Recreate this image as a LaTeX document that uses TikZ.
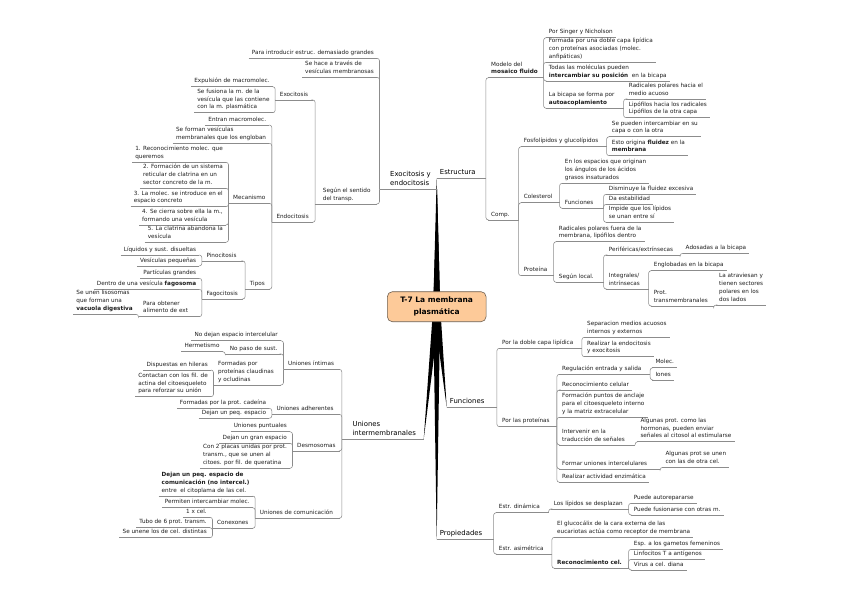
\documentclass[tikz,border=0pt]{standalone}
\usepackage{fontspec}
\setmainfont{DejaVu Sans}
\usetikzlibrary{calc,backgrounds}
\definecolor{txt}{RGB}{30,30,30}
\definecolor{lin}{RGB}{140,140,140}
\definecolor{rootfill}{RGB}{253,202,153}
\definecolor{rootdraw}{RGB}{110,95,80}
\newcommand\mmtl[1]{\begin{tabular}{@{}l@{}}#1\end{tabular}}
\newcommand\RL[4]{\node[tp,anchor=south west] (#1) at (#2,#3) {\mmtl{#4}};\draw[uline] (#1.south west) -- (#1.south east);}
\newcommand\LL[4]{\node[tp,anchor=south east] (#1) at (#2,#3) {\mmtl{#4}};\draw[uline] (#1.south west) -- (#1.south east);}
\newcommand\PP[6]{\node[#1,anchor=south west] (#2) at (#3,#4) {\makebox[\dimexpr#5pt-6pt\relax][l]{\mmtl{#6}}};\draw[uline] (#2.south west) -- (#2.south east);}
\newcommand\cR[2]{\draw[conn] (#1.south east) -- ++(1.5,0) coordinate (mmv);\draw[conn,rounded corners=2.5pt] (mmv) |- (#2.south west);}
\newcommand\cL[2]{\draw[conn] (#1.south west) -- ++(-1.5,0) coordinate (mmv);\draw[conn,rounded corners=2.5pt] (mmv) |- (#2.south east);}
\begin{document}
\begin{tikzpicture}[x=1pt,y=-1pt,
  tp/.style={inner xsep=3pt,inner ysep=1.2pt,font=\fontsize{5.7}{7.8}\selectfont,text=txt},
  mt/.style={tp,font=\fontsize{6.9}{8.8}\selectfont,text=black},
  uline/.style={draw=lin,line width=0.55pt},
  conn/.style={draw=lin,line width=0.55pt},
  root/.style={draw=rootdraw,fill=rootfill,rounded corners=5pt,minimum width=98.7pt,minimum height=30pt,align=center,font=\bfseries\fontsize{7.5}{11.6}\selectfont,text=black,line width=0.6pt}]
\useasboundingbox (0,0) rectangle (848,599);

\node[root] (root) at (436.7,306.7) {T-7 La membrana\\plasmática};

% ---------- Estructura ----------
\PP{mt}{estr}{436.7}{178.3}{47.3}{Estructura}
\PP{tp}{mod}{488}{77.7}{53.7}{Modelo del\\\textbf{mosaico fluido}}
\RL{sing}{545.7}{37.7}{Por Singer y Nicholson}
\RL{form}{545.7}{62.3}{Formada por una doble capa lipídica\\con proteínas asociadas (molec.\\anfipáticas)}
\RL{todas}{545.7}{81}{Todas las moléculas pueden\\\textbf{intercambiar su posición}\ \ en la bicapa}
\PP{tp}{bicapa}{545.7}{108.3}{76}{La bicapa se forma por\\\textbf{autoacoplamiento}}
\RL{radic}{625.7}{99}{Radicales polares hacia el\\medio acuoso}
\RL{lipof}{625.7}{117.7}{Lipófilos hacia los radicales\\Lipófilos de la otra capa}
\PP{tp}{comp}{488}{220}{28.7}{Comp.}
\PP{tp}{fosfo}{520.7}{146.7}{84}{Fosfolípidos y glucolípidos}
\RL{seint}{608.7}{136.7}{Se pueden intercambiar en su\\capa o con la otra}
\RL{esto}{608.7}{155.7}{Esto origina \textbf{fluidez} en la\\\textbf{membrana}}
\PP{tp}{coles}{520.7}{202.7}{37}{Colesterol}
\RL{espac}{561.7}{183.3}{En los espacios que originan\\los ángulos de los ácidos\\grasos insaturados}
\PP{tp}{funcc}{561.7}{208.3}{40}{Funciones}
\RL{dism}{605.7}{194.3}{Disminuye la fluidez excesiva}
\RL{estab}{605.7}{204.3}{Da estabilidad}
\RL{impide}{605.7}{222.3}{Impide que los lípidos\\se unan entre sí}
\PP{tp}{prot}{520.7}{275.7}{31}{Proteína}
\RL{radfu}{555.7}{241.7}{Radicales polares fuera de la\\membrana, lipófilos dentro}
\PP{tp}{seglo}{555.7}{282.3}{46}{Según local.}
\PP{tp}{perif}{605.7}{255}{72.6}{Periféricas/extrínsecas}
\RL{adosa}{682.5}{253.3}{Adosadas a la bicapa}
\PP{tp}{integ}{605.7}{289}{41}{Integrales/\\intrínsecas}
\RL{englo}{650.7}{270.7}{Englobadas en la bicapa}
\PP{tp}{trans}{650.7}{306}{61}{Prot.\\transmembranales}
\RL{atrav}{716}{305}{La atraviesan y\\tienen sectores\\polares en los\\dos lados}

\cR{estr}{mod}\cR{estr}{comp}
\cR{mod}{sing}\cR{mod}{form}\cR{mod}{todas}\cR{mod}{bicapa}
\cR{bicapa}{radic}\cR{bicapa}{lipof}
\cR{comp}{fosfo}\cR{comp}{coles}\cR{comp}{prot}
\cR{fosfo}{seint}\cR{fosfo}{esto}
\cR{coles}{espac}\cR{coles}{funcc}
\cR{funcc}{dism}\cR{funcc}{estab}\cR{funcc}{impide}
\cR{prot}{radfu}\cR{prot}{seglo}
\cR{seglo}{perif}\cR{seglo}{integ}
\cR{perif}{adosa}
\cR{integ}{englo}\cR{integ}{trans}
\cR{trans}{atrav}

% ---------- Exocitosis y endocitosis ----------
\PP{mt}{exo}{381}{189.3}{55.7}{\hspace*{6pt}Exocitosis y\\\hspace*{6pt}endocitosis}
\LL{paraint}{377}{58.3}{Para introducir estruc. demasiado grandes}
\LL{sehace}{377}{77.3}{Se hace a través de\\vesículas membranosas}
\PP{tp}{segun}{316.7}{204}{60.3}{\hspace*{3pt}Según el sentido\\\hspace*{3pt}del transp.}
\PP{tp}{exoc}{276.7}{100}{36}{Exocitosis}
\LL{expul}{272.7}{86.7}{Expulsión de macromolec.}
\LL{sefus}{272.7}{112.7}{Se fusiona la m. de la\\vesícula que las contiene\\con la m. plasmática}
\PP{tp}{endoc}{273.3}{222.3}{39.4}{Endocitosis}
\LL{entran}{269.3}{125}{Entran macromolec.}
\LL{seform}{269.3}{143.3}{Se forman vesículas\\membranales que los engloban}
\PP{tp}{mecan}{230}{203.3}{39.3}{Mecanismo}
\LL{mA}{226}{162.3}{1. Reconocimiento molec. que\\queremos}
\LL{mB}{226}{188.3}{2. Formación de un sistema\\reticular de clatrina en un\\sector concreto de la m.}
\LL{mC}{226}{206.7}{3. La molec. se introduce en el\\espacio concreto}
\LL{mD}{226}{225}{4. Se cierra sobre ella la m.,\\formando una vesícula}
\LL{mE}{226}{242.3}{5. La clatrina abandona la\\vesícula}
\PP{tp}{tipos}{246.7}{289.3}{22.6}{Tipos}
\PP{tp}{pino}{203.3}{261}{39.4}{Pinocitosis}
\LL{liq}{199.3}{255}{Líquidos y sust. disueltas}
\LL{vesp}{199.3}{266}{Vesículas pequeñas}
\PP{tp}{fago}{203.3}{299}{39.4}{Fagocitosis}
\LL{partic}{199.3}{278.3}{Partículas grandes}
\LL{dentro}{199.3}{289.3}{Dentro de una vesícula \textbf{fagosoma}}
\PP{tp}{paraob}{140}{316.7}{59.3}{Para obtener\\alimento de ext}
\LL{seunen}{136}{314.3}{Se unen lisosomas\\que forman una\\\textbf{vacuola digestiva}}

\cL{exo}{paraint}\cL{exo}{sehace}\cL{exo}{segun}
\cL{segun}{exoc}\cL{segun}{endoc}
\cL{exoc}{expul}\cL{exoc}{sefus}
\cL{endoc}{entran}\cL{endoc}{seform}\cL{endoc}{mecan}\cL{endoc}{tipos}
\cL{mecan}{mA}\cL{mecan}{mB}\cL{mecan}{mC}\cL{mecan}{mD}\cL{mecan}{mE}
\cL{tipos}{pino}\cL{tipos}{fago}
\cL{pino}{liq}\cL{pino}{vesp}
\cL{fago}{partic}\cL{fago}{dentro}\cL{fago}{paraob}
\cL{paraob}{seunen}

% ---------- Uniones intermembranales ----------
\PP{mt}{unio}{343.3}{439.3}{80}{\hspace*{6pt}Uniones\\\hspace*{6pt}intermembranales}
\PP{tp}{uint}{285}{369.3}{54.3}{Uniones íntimas}
\LL{nodej}{281}{340.7}{No dejan espacio intercelular}
\PP{tp}{nopaso}{226.7}{354}{54.3}{No paso de sust.}
\LL{herm}{222.7}{351.7}{Hermetismo}
\PP{tp}{formcl}{215}{385}{66}{Formadas por\\proteínas claudinas\\y ocludinas}
\LL{disp}{211}{370}{Dispuestas en hileras}
\LL{contac}{211}{396.7}{Contactan con los fil. de\\actina del citoesqueleto\\para reforzar su unión}
\PP{tp}{uadh}{273.3}{414.3}{66}{Uniones adherentes}
\LL{formcad}{269.3}{408.3}{Formadas por la prot. cadeína}
\LL{dejpeq}{269.3}{418.3}{Dejan un peq. espacio}
\PP{tp}{desmo}{294}{451}{45.3}{Desmosomas}
\LL{upunt}{290}{431.7}{Uniones puntuales}
\LL{dgran}{290}{443.3}{Dejan un gran espacio}
\LL{con2}{290}{468.3}{Con 2 placas unidas por prot.\\transm., que se unen al\\citoes. por fil. de queratina}
\PP{tp}{ucom}{256.7}{518.3}{82.6}{Uniones de comunicación}
\LL{dpeqc}{252.7}{496}{\textbf{Dejan un peq. espacio de}\\\textbf{comunicación (no intercel.)}\\entre\ \ el citoplama de las cel.}
\LL{perm}{252.7}{507.7}{Permiten intercambiar molec.}
\PP{tp}{conex}{214}{528.3}{38.7}{Conexones}
\LL{unox}{210}{517.3}{1 x cel.}
\LL{tubo}{210}{527.7}{Tubo de 6 prot. transm.}
\LL{seunene}{210}{537.7}{Se unene los de cel. distintas}

\cL{unio}{uint}\cL{unio}{uadh}\cL{unio}{desmo}\cL{unio}{ucom}
\cL{uint}{nodej}\cL{uint}{nopaso}\cL{uint}{formcl}
\cL{nopaso}{herm}
\cL{formcl}{disp}\cL{formcl}{contac}
\cL{uadh}{formcad}\cL{uadh}{dejpeq}
\cL{desmo}{upunt}\cL{desmo}{dgran}\cL{desmo}{con2}
\cL{ucom}{dpeqc}\cL{ucom}{perm}\cL{ucom}{conex}
\cL{conex}{unox}\cL{conex}{tubo}\cL{conex}{seunene}

% ---------- Funciones ----------
\PP{mt}{func}{446.7}{407.3}{48.3}{Funciones}
\PP{tp}{pdoble}{499}{348.3}{81}{Por la doble capa lipídica}
\RL{separ}{584}{337.3}{Separacion medios acuosos\\internos y externos}
\RL{realiz}{584}{356.7}{Realizar la endocitosis\\y exocitosis}
\PP{tp}{pprot}{499}{426.7}{56}{Por las proteínas}
\PP{tp}{regul}{559}{374.3}{89.3}{Regulación entrada y salida}
\RL{molec}{652.3}{367.7}{Molec.}
\RL{iones}{652.3}{380}{Iones}
\RL{recon}{559}{390}{Reconocimiento celular}
\RL{anclaje}{559}{417.3}{Formación puntos de anclaje\\para el citoesqueleto interno\\y la matriz extracelular}
\PP{tp}{interv}{559}{445}{74.3}{Intervenir en la\\traducción de señales}
\RL{algh}{637.3}{441.7}{Algunas prot. como las\\hormonas, pueden enviar\\señales al citosol al estimularse}
\PP{tp}{formu}{559}{469}{99.3}{Formar uniones intercelulares}
\RL{algu}{662.3}{467.3}{Algunas prot se unen\\con las de otra cel.}
\RL{enzim}{559}{482.3}{Realizar actividad enzimática}

\cR{func}{pdoble}\cR{func}{pprot}
\cR{pdoble}{separ}\cR{pdoble}{realiz}
\cR{pprot}{regul}\cR{pprot}{recon}\cR{pprot}{anclaje}\cR{pprot}{interv}\cR{pprot}{formu}\cR{pprot}{enzim}
\cR{regul}{molec}\cR{regul}{iones}
\cR{interv}{algh}
\cR{formu}{algu}

% ---------- Propiedades ----------
\PP{mt}{propi}{436.7}{539.3}{55}{Propiedades}
\PP{tp}{dinam}{495.7}{512.7}{51}{Estr. dinámica}
\PP{tp}{lipdesp}{550.7}{509}{76}{Los lípidos se desplazan}
\RL{autor}{630.7}{503.3}{Puede autorepararse}
\RL{fusion}{630.7}{515}{Puede fusionarse con otras m.}
\PP{tp}{asim}{495.7}{554}{54.3}{Estr. asimétrica}
\RL{gluco}{554}{537.3}{El glucocálix de la cara externa de las\\eucariotas actúa como receptor de membrana}
\PP{tp}{reconc}{554}{568.3}{72.7}{\textbf{Reconocimiento cel.}}
\RL{gamet}{630.7}{549.3}{Esp. a los gametos femeninos}
\RL{linfo}{630.7}{559.3}{Linfocitos T a antígenos}
\RL{virus}{630.7}{570}{Virus a cel. diana}

\cR{propi}{dinam}\cR{propi}{asim}
\cR{dinam}{lipdesp}
\cR{lipdesp}{autor}\cR{lipdesp}{fusion}
\cR{asim}{gluco}\cR{asim}{reconc}
\cR{reconc}{gamet}\cR{reconc}{linfo}\cR{reconc}{virus}

% ---------- tapered main branches ----------
\begin{scope}[on background layer]
\fill[white] (0,0) rectangle (848,599);
\fill[black] ($(root.center)+(-3.5,0)$) -- (estr.south west) -- ($(root.center)+(3.5,0)$) -- cycle;
\fill[black] ($(root.center)+(-3.5,0)$) -- (exo.south east) -- ($(root.center)+(3.5,0)$) -- cycle;
\fill[black] ($(root.center)+(-3.5,0)$) -- (func.south west) -- ($(root.center)+(3.5,0)$) -- cycle;
\fill[black] ($(root.center)+(-3.5,0)$) -- (unio.south east) -- ($(root.center)+(3.5,0)$) -- cycle;
\fill[black] ($(root.center)+(-3.5,0)$) -- (propi.south west) -- ($(root.center)+(3.5,0)$) -- cycle;
\end{scope}
\end{tikzpicture}
\end{document}
